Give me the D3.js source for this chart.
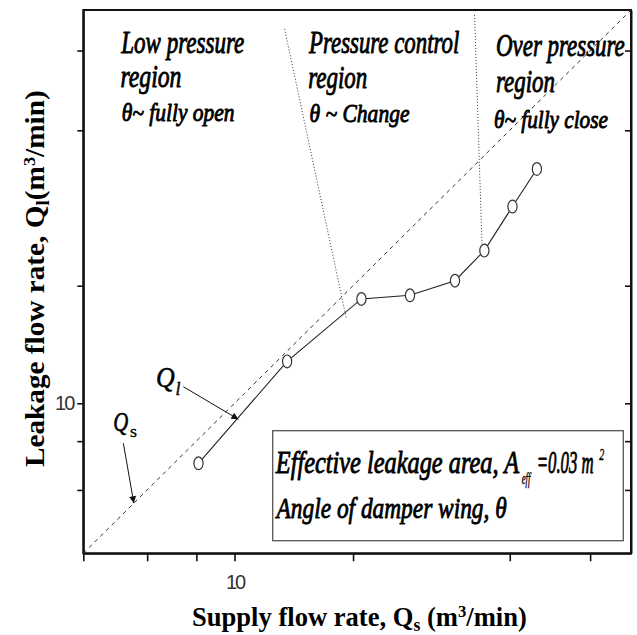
<!DOCTYPE html>
<html><head><meta charset="utf-8">
<script src="https://cdn.jsdelivr.net/npm/d3@7"></script>
<style>body{margin:0;background:#fff}</style>
</head><body>
<svg id="c" width="637" height="635"></svg>
<script>
// ---- data ----
const supplyFlow  = [8.1, 13.6, 21.0, 27.9, 36.3, 43.1, 50.8, 58.6];
const leakageFlow = [7.02, 12.8, 18.5, 18.9, 20.6, 24.6, 31.9, 39.8];
const axisDomain = [4.13, 101.6];
const tickValues = [6, 8, 10, 20, 50, 80];
const labelledTicks = [10];
const boundaryA = [[13.4, 90.9], [19.2, 16.6]];
const boundaryB = [[40.7, 98.7], [42.5, 25.7]];
const arrowQl = [[7.41, 11.03], [10.23, 9.1]];
const arrowQs = [[5.22, 7.9], [5.55, 5.55]];

const svg = d3.select("#c");
const L = 83.3, R = 631, T = 10, B = 553.3;
const x = d3.scaleLog().domain(axisDomain).range([L, R]);
const y = d3.scaleLog().domain(axisDomain).range([B, T]);

const defs = svg.append("defs");
defs.append("marker").attr("id","ah").attr("viewBox","0 0 10 10")
  .attr("refX",10).attr("refY",5).attr("markerWidth",10).attr("markerHeight",7)
  .attr("markerUnits","userSpaceOnUse").attr("orient","auto")
  .append("path").attr("d","M0,0 L10,5 L0,10 Z").attr("fill","#111");

// frame
svg.append("rect").attr("x",L).attr("y",T).attr("width",R-L).attr("height",B-T)
  .attr("fill","none").attr("stroke","#111").attr("stroke-width",2);

// axes
const fmt = d => labelledTicks.includes(d) ? String(d) : "";
const xAxis = svg.append("g").attr("transform",`translate(0,${B})`)
  .call(d3.axisBottom(x).tickValues([axisDomain[0], ...tickValues]).tickSize(8).tickSizeOuter(0).tickPadding(14).tickFormat(fmt));
const yAxis = svg.append("g").attr("transform",`translate(${L},0)`)
  .call(d3.axisLeft(y).tickValues(tickValues).tickSize(6).tickSizeOuter(0).tickPadding(4).tickFormat(fmt));
const yAxisR = svg.append("g").attr("transform",`translate(${R},0)`)
  .call(d3.axisLeft(y).tickValues(tickValues).tickSize(6).tickSizeOuter(0).tickFormat(""));
[xAxis,yAxis,yAxisR].forEach(g=>{
  g.select(".domain").attr("stroke","#111").attr("stroke-width",2);
  g.selectAll(".tick line").attr("stroke","#111").attr("stroke-width",1.6);
  g.selectAll(".tick text").attr("font-family","'Liberation Sans', Arial, sans-serif")
    .attr("font-size",20).attr("fill","#333").attr("letter-spacing",-2);
});

// Qs = Ql dashed line
const line = d3.line().x(d=>x(d[0])).y(d=>y(d[1]));
svg.append("path").datum([[axisDomain[0],axisDomain[0]],[axisDomain[1],axisDomain[1]]])
  .attr("d",line).attr("fill","none").attr("stroke","#333").attr("stroke-width",1)
  .attr("stroke-dasharray","4,4");

// region boundaries (dotted)
[boundaryA, boundaryB].forEach(b=>{
  svg.append("path").datum(b).attr("d",line).attr("fill","none")
    .attr("stroke","#333").attr("stroke-width",1).attr("stroke-dasharray","1,2");
});

// data line + markers
const pts = supplyFlow.map((v,i)=>[v, leakageFlow[i]]);
svg.append("path").datum(pts).attr("d",line).attr("fill","none")
  .attr("stroke","#222").attr("stroke-width",1.1);
svg.selectAll("ellipse.pt").data(pts).join("ellipse").attr("class","pt")
  .attr("cx",d=>x(d[0])).attr("cy",d=>y(d[1])).attr("rx",4.6).attr("ry",6.4)
  .attr("fill","#fff").attr("stroke","#333").attr("stroke-width",1.2);

// arrows
[arrowQl, arrowQs].forEach(a=>{
  svg.append("path").datum(a).attr("d",line).attr("stroke","#111").attr("stroke-width",1)
    .attr("fill","none").attr("marker-end","url(#ah)");
});

// text helper: fit a text to a target width
function fitText(parts, opts){
  const g = svg.append("g");
  const t = g.append("text").attr("font-family","'Liberation Serif', 'Times New Roman', serif")
    .attr("font-size",opts.size).attr("font-style",opts.italic?"italic":"normal")
    .attr("font-weight",opts.bold?"bold":"normal").attr("fill","#000")
    .attr("stroke", opts.stroke ? "#000" : "none").attr("stroke-width", opts.stroke || 0)
    .attr("stroke-linejoin","round");
  parts.forEach(p=>{
    const ts = t.append("tspan").text(p.t);
    if(p.size) ts.attr("font-size",p.size);
    if(p.dy) ts.attr("dy",p.dy);
    if(p.italic!==undefined) ts.attr("font-style",p.italic?"italic":"normal");
  });
  const bb = t.node().getBBox();
  const sx = opts.width/bb.width;
  const rot = opts.rotate ? ` rotate(${opts.rotate})` : "";
  g.attr("transform",`translate(${opts.x},${opts.y})${rot} scale(${sx},1) translate(${-bb.x},0)`);
  return g;
}

// region labels
const regionLines = [
  {t:"Low pressure", x:120.5, y:53, w:124, s:31},
  {t:"region", x:120.5, y:87, w:61, s:31},
  {t:"θ~ fully open", x:121.7, y:120.5, w:113, s:25},
  {t:"Pressure control", x:308.3, y:53, w:151, s:31},
  {t:"region", x:308.3, y:87.5, w:59, s:31},
  {t:"θ ~ Change", x:309.5, y:121.5, w:100, s:25},
  {t:"Over pressure", x:496, y:55.5, w:129, s:31},
  {t:"region", x:496, y:91.5, w:59, s:31},
  {t:"θ~ fully close", x:494, y:128, w:114, s:25}
];
regionLines.forEach(r=>fitText([{t:r.t}],{x:r.x,y:r.y,width:r.w,size:r.s,italic:true,stroke:0.9}));

// Q labels
fitText([{t:"Q"}],{x:156,y:387,width:19,size:30,italic:true,stroke:0.6});
fitText([{t:"l"}],{x:175.5,y:395,width:5,size:18,italic:true,stroke:0.4});
fitText([{t:"Q"}],{x:113.3,y:431,width:15,size:28,italic:true,stroke:0.6});
fitText([{t:"s"}],{x:130,y:437,width:7,size:16,italic:false,stroke:0.3});

// info box
svg.append("rect").attr("x",272.7).attr("y",430.7).attr("width",623.3-272.7).attr("height",540.7-430.7)
  .attr("fill","#fff").attr("stroke","#555").attr("stroke-width",1.3);
fitText([{t:"Effective leakage area, A"}],{x:275,y:473,width:245,size:31,italic:true,stroke:0.9});
fitText([{t:"eff"}],{x:521.7,y:484,width:10,size:16,italic:true,stroke:0.4});
fitText([{t:"=0.03 m"}],{x:536.7,y:473,width:57,size:31,italic:true,stroke:0.9});
fitText([{t:"2"}],{x:599.3,y:460,width:5,size:16,italic:true,stroke:0.4});
fitText([{t:"Angle of damper wing, θ"}],{x:275,y:518,width:232,size:30,italic:true,stroke:0.9});

// axis titles
fitText([{t:"Supply flow rate, Q"},{t:"s",size:18,dy:5},{t:" (m",dy:-5},{t:"3",size:17,dy:-9},{t:"/min)",dy:9}],
  {x:192,y:626,width:335,size:27,bold:true});
fitText([{t:"Leakage flow rate, Q"},{t:"l",size:18,dy:5},{t:"(m",dy:-5},{t:"3",size:17,dy:-9},{t:"/min)",dy:9}],
  {x:44,y:467,width:377,size:27,bold:true,rotate:-90});
</script>
</body></html>
